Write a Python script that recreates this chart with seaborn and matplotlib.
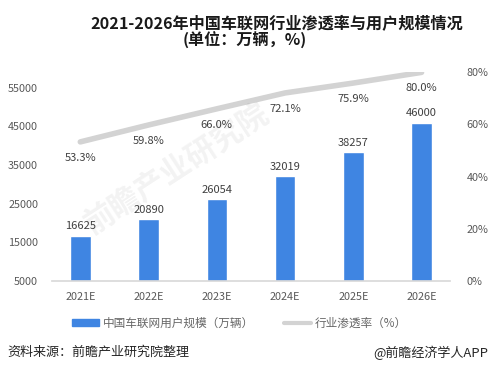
import pandas as pd
import seaborn as sns
import matplotlib.pyplot as plt
from matplotlib.lines import Line2D
from matplotlib.patches import Patch

# data
years = ['2021E', '2022E', '2023E', '2024E', '2025E', '2026E']
users = [16625, 20890, 26054, 32019, 38257, 46000]  # 万辆
rate = [53.3, 59.8, 66.0, 72.1, 75.9, 80.0]  # %

df = pd.DataFrame({'year': years, 'users': users, 'rate': rate})

sns.set_theme(style='white')
plt.rcParams['font.family'] = ['Noto Sans CJK SC', 'DejaVu Sans']

fig = plt.figure(figsize=(4.89, 3.75), dpi=100)
ax = fig.add_axes([0.1063, 0.2515, 0.8137, 0.5555])

bar_color = '#3f85e2'
line_color = '#d3d3d3'
txt = '#404040'
tick_c = '#595959'

sns.barplot(data=df, x='year', y='users', color=bar_color, width=0.3,
            saturation=1, ax=ax)
ax.set_ylim(5000, 59000)
ax.set_yticks([5000, 15000, 25000, 35000, 45000, 55000])
ax.set_xlabel('')
ax.set_ylabel('')
ax.tick_params(axis='y', labelsize=7.8, colors=tick_c, length=0, pad=10)
ax.tick_params(axis='x', labelsize=7.8, colors=tick_c, length=0, pad=8)
for s in ['top', 'right', 'left']:
    ax.spines[s].set_visible(False)
ax.spines['bottom'].set_color('#d9d9d9')

for i, v in enumerate(users):
    ax.text(i, v + 1200, str(v), ha='center', va='bottom', fontsize=8, color=txt)

ax2 = ax.twinx()
sns.lineplot(x=range(len(years)), y=[r / 100 for r in rate], color=line_color,
             linewidth=4, ax=ax2)
ax2.set_ylim(0, 0.8)
ax2.set_yticks([0, 0.2, 0.4, 0.6, 0.8])
ax2.set_yticklabels(['0%', '20%', '40%', '60%', '80%'])
ax2.tick_params(axis='y', labelsize=7.8, colors=tick_c, length=0, pad=12)
for s in ax2.spines.values():
    s.set_visible(False)
ax2.set_xlim(ax.get_xlim())

# percent labels sit below the line
for i, r in enumerate(rate):
    ax2.text(i, r / 100 - 0.042, f'{r:.1f}%', ha='center', va='top',
             fontsize=8, color=txt)

# watermark
fig.text(0.36, 0.55, '前瞻产业研究院', fontsize=22, color='#000000', alpha=0.05,
         rotation=33, ha='center', va='center', fontweight='bold')

# title
fig.text(0.566, 0.935, '2021-2026年中国车联网行业渗透率与用户规模情况',
         ha='center', va='center', fontsize=11.6, fontweight='bold', color='#1a1a1a')
fig.text(0.5, 0.891, '(单位：万辆，%)', ha='center', va='center',
         fontsize=11.6, fontweight='bold', color='#1a1a1a')

# legend
handles = [Patch(color=bar_color, label='中国车联网用户规模（万辆）'),
           Line2D([0], [0], color=line_color, linewidth=3, label='行业渗透率（%）')]
fig.legend(handles=handles, loc='center', bbox_to_anchor=(0.49, 0.138), ncol=2,
           frameon=False, fontsize=8.4, handlelength=2.3, handleheight=0.6,
           handletextpad=0.3, columnspacing=2.6, labelcolor='#666666')

# footer
fig.text(0.016, 0.06, '资料来源：前瞻产业研究院整理', ha='left', va='center',
         fontsize=9.4, color='#262626')
fig.text(0.998, 0.06, '@前瞻经济学人APP', ha='right', va='center',
         fontsize=9.4, color='#262626')

fig.savefig('out.png', dpi=100)
